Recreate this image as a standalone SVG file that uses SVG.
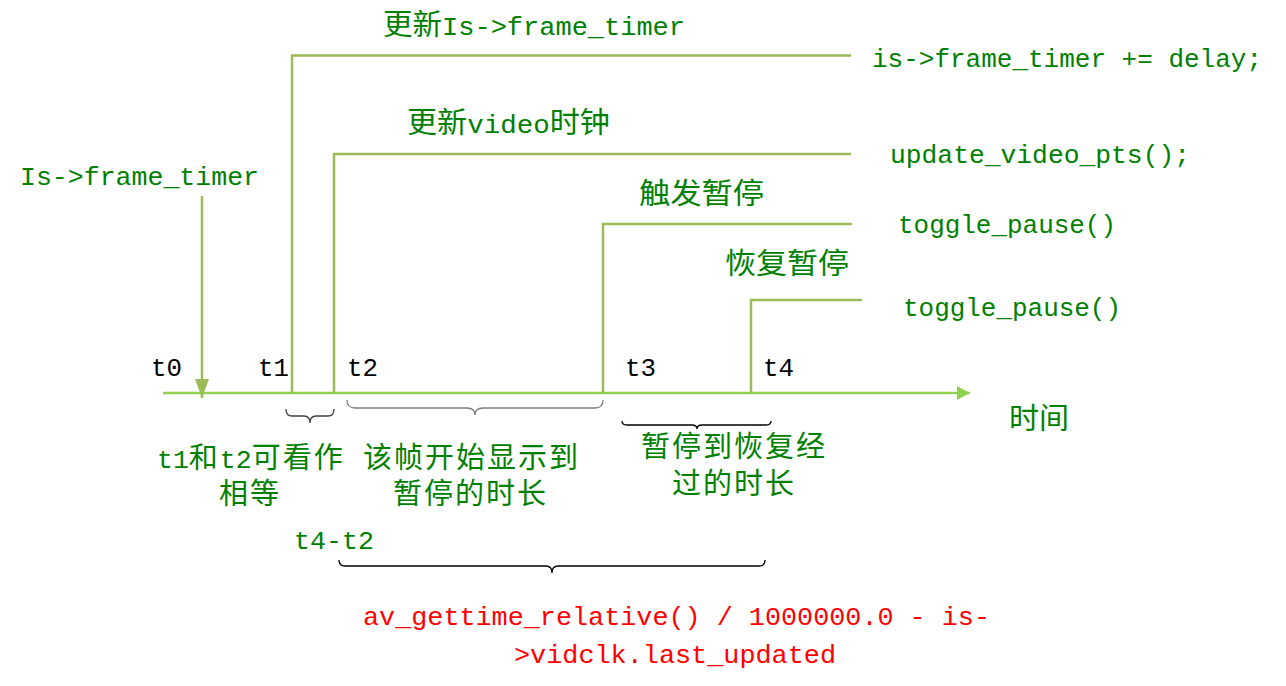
<svg xmlns="http://www.w3.org/2000/svg" width="1286" height="686" viewBox="0 0 1286 686">
<style>
.g{fill:#008000}
.r{fill:#ff0000}
.k{fill:#000000}
.m{font-family:"Liberation Mono","Noto Sans CJK SC",monospace;font-size:26.5px}
.c{font-family:"Noto Sans CJK SC","Liberation Sans",sans-serif;font-size:29px}
.c31{font-family:"Noto Sans CJK SC","Liberation Sans",sans-serif;font-size:29px;letter-spacing:2px}
.ml{font-family:"Liberation Mono",monospace;font-size:26.5px;letter-spacing:0}
.ln{fill:none;stroke:#9bbb59;stroke-width:2.5}
.tl{fill:none;stroke:#92d050;stroke-width:2.5}
.br{fill:none;stroke-width:1.3}
</style>
<defs>
<marker id="ah" markerUnits="userSpaceOnUse" markerWidth="14" markerHeight="14" refX="13" refY="7" orient="auto">
<path d="M0,0 L13,7 L0,14 z" fill="#92d050"/>
</marker>
<marker id="ad" markerUnits="userSpaceOnUse" markerWidth="20" markerHeight="16" refX="19" refY="7" orient="auto">
<path d="M0,0 L19,7 L0,14 z" fill="#9bbb59"/>
</marker>
</defs>
<rect width="1286" height="686" fill="#ffffff"/>
<g id="connectors">
<line class="tl" x1="163" y1="393" x2="970" y2="393" marker-end="url(#ah)"/>
<line class="ln" x1="202" y1="196" x2="202" y2="398" marker-end="url(#ad)"/>
<polyline class="ln" points="292,393 292,55.5 851,55.5"/>
<polyline class="ln" points="334,393 334,154 851,154"/>
<polyline class="ln" points="603,393 603,224 852,224"/>
<polyline class="ln" points="751,393 751,300 862,300"/>
<path class="br" stroke="#404040" d="M286,409 Q286,416 292,416 L304,416 Q310,416 310,423 Q310,416 316,416 L328,416 Q334,416 334,409"/>
<path class="br" stroke="#7f7f7f" stroke-width="1.8" d="M347,400 Q347,408 355,408 L467,408 Q475,408 475,415 Q475,408 483,408 L595,408 Q603,408 603,400"/>
<path class="br" stroke="#000000" d="M622,421 Q622,425 627,425 L692,425 Q697,425 697,429 Q697,425 702,425 L766,425 Q771,425 771,421"/>
<path class="br" stroke="#000000" d="M339,560 Q339,566 345,566 L546,566 Q552,566 552,573 Q552,566 558,566 L759,566 Q765,566 765,560"/>
</g>
<g id="label-update-frame-timer">
<text class="m g" x="383" y="35" textLength="302" lengthAdjust="spacingAndGlyphs"><tspan class="c">更新</tspan>Is-&gt;frame_timer</text>
<text class="m g" x="872" y="67" textLength="390" lengthAdjust="spacingAndGlyphs">is-&gt;frame_timer += delay;</text>
</g>
<g id="label-update-video">
<text class="m g" x="407" y="133" textLength="203" lengthAdjust="spacingAndGlyphs"><tspan class="c">更新</tspan>video<tspan class="c">时钟</tspan></text>
<text class="m g" x="890" y="163" textLength="300" lengthAdjust="spacingAndGlyphs">update_video_pts();</text>
</g>
<g id="label-pause">
<text class="c g" x="639" y="204" textLength="125" lengthAdjust="spacingAndGlyphs">触发暂停</text>
<text class="m g" x="898" y="233" textLength="218" lengthAdjust="spacingAndGlyphs">toggle_pause()</text>
</g>
<g id="label-resume">
<text class="c g" x="725" y="274" textLength="124" lengthAdjust="spacingAndGlyphs">恢复暂停</text>
<text class="m g" x="903" y="316" textLength="218" lengthAdjust="spacingAndGlyphs">toggle_pause()</text>
</g>
<g id="label-t0-frame-timer">
<text class="m g" x="20" y="185" textLength="239" lengthAdjust="spacingAndGlyphs">Is-&gt;frame_timer</text>
</g>
<g id="ticks">
<text class="m k" x="151" y="376" font-size="25" textLength="31" lengthAdjust="spacingAndGlyphs">t0</text>
<text class="m k" x="258" y="376" font-size="25" textLength="31" lengthAdjust="spacingAndGlyphs">t1</text>
<text class="m k" x="347" y="376" font-size="25" textLength="31" lengthAdjust="spacingAndGlyphs">t2</text>
<text class="m k" x="625" y="376" font-size="25" textLength="31" lengthAdjust="spacingAndGlyphs">t3</text>
<text class="m k" x="763" y="376" font-size="25" textLength="31" lengthAdjust="spacingAndGlyphs">t4</text>
</g>
<g id="label-time">
<text class="c g" x="1009" y="429" textLength="60" lengthAdjust="spacingAndGlyphs">时间</text>
</g>
<g id="label-t1-t2">
<text class="c31 g"><tspan x="157" y="468"><tspan class="ml">t1</tspan>和<tspan class="ml">t2</tspan>可看作</tspan><tspan x="219" y="504">相等</tspan></text>
</g>
<g id="label-display-to-pause">
<text class="c31 g"><tspan x="363" y="468">该帧开始显示到</tspan><tspan x="393" y="504">暂停的时长</tspan></text>
</g>
<g id="label-pause-to-resume">
<text class="c31 g"><tspan x="641" y="457">暂停到恢复经</tspan><tspan x="672" y="494">过的时长</tspan></text>
</g>
<g id="label-t4-t2">
<text class="m g" x="294" y="549" textLength="80" lengthAdjust="spacingAndGlyphs">t4-t2</text>
</g>
<g id="label-formula">
<text class="m r" x="363" y="625" textLength="627" lengthAdjust="spacingAndGlyphs">av_gettime_relative() / 1000000.0 - is-</text>
<text class="m r" x="514" y="663" textLength="322" lengthAdjust="spacingAndGlyphs">&gt;vidclk.last_updated</text>
</g>
</svg>
